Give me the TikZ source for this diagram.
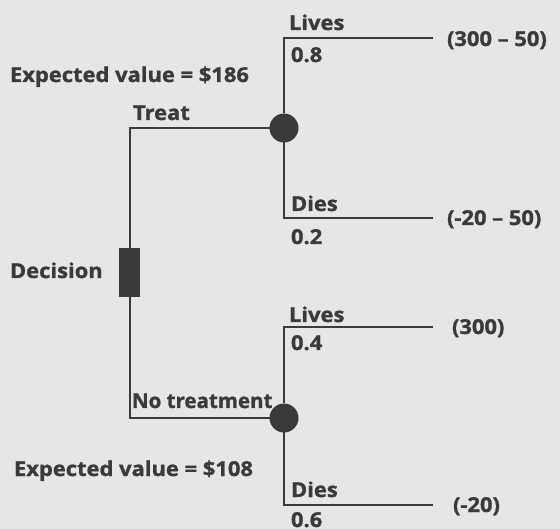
\documentclass[tikz,border=0pt]{standalone}
\usepackage{fontspec}
\newfontfamily\lblfont{Open Sans}[BoldFeatures={FakeBold=1.2,FakeStretch=1.07}]
\newfontfamily\lblnarrow{Open Sans}[BoldFeatures={FakeBold=1.2}]
\begin{document}
\begin{tikzpicture}[x=1pt,y=-1pt,
  every node/.style={inner sep=0pt,outer sep=0pt},
  lbl/.style={font=\lblfont\bfseries\fontsize{20.5}{22}\selectfont,text=ink,anchor=base west},
  lblnarrow/.style={lbl,font=\lblnarrow\bfseries\fontsize{20.5}{22}\selectfont},
  branch/.style={draw=ink,line width=2pt},
  decisionbox/.style={draw=none,fill=ink,minimum width=21pt,minimum height=49pt},
  chance/.style={circle,draw=none,fill=ink,minimum size=29pt}]
\definecolor{ink}{HTML}{3A3A3A}
\definecolor{paper}{HTML}{E6E6E6}
% background and fixed frame
\fill[paper] (0,0) rectangle (560,529);
\useasboundingbox (0,0) rectangle (560,529);

% decision and chance nodes
\node[decisionbox] (dec) at (129.5,272.5) {};
\node[chance] (c1) at (284,128) {};
\node[chance] (c2) at (284,418) {};

% free ends of the outcome branches
\coordinate (e1) at (433,38);
\coordinate (e2) at (433,218);
\coordinate (e3) at (433,327);
\coordinate (e4) at (433,505);

% connectors
\draw[branch] (dec.north) |- (c1.west);
\draw[branch] (dec.south) |- (c2.west);
\draw[branch] (c1.north) |- (e1);
\draw[branch] (c1.south) |- (e2);
\draw[branch] (c2.north) |- (e3);
\draw[branch] (c2.south) |- (e4);

% labels
\node[lbl] (tlives) at (289,30) {Lives};
\node[lbl] (tp1) at (291,62) {0.8};
\node[lbl] (tv1) at (447,46) {(300 – 50)};
\node[lbl] (tev1) at (10,82) {Expected value = \$186};
\node[lbl] (ttreat) at (133,120) {Treat};
\node[lbl] (tdies) at (291,211) {Dies};
\node[lbl] (tp2) at (291,244) {0.2};
\node[lbl] (tv2) at (447,225) {(-20 – 50)};
\node[lbl] (tdec) at (10,278) {Decision};
\node[lbl] (tlives2) at (289,322) {Lives};
\node[lbl] (tp3) at (291,350) {0.4};
\node[lbl] (tv3) at (452,334) {(300)};
\node[lblnarrow] (tnot) at (132,408) {No treatment};
\node[lbl] (tev2) at (14,476) {Expected value = \$108};
\node[lbl] (tdies2) at (291,497) {Dies};
\node[lbl] (tp4) at (291,527) {0.6};
\node[lbl] (tv4) at (453,512) {(-20)};
\end{tikzpicture}
\end{document}
